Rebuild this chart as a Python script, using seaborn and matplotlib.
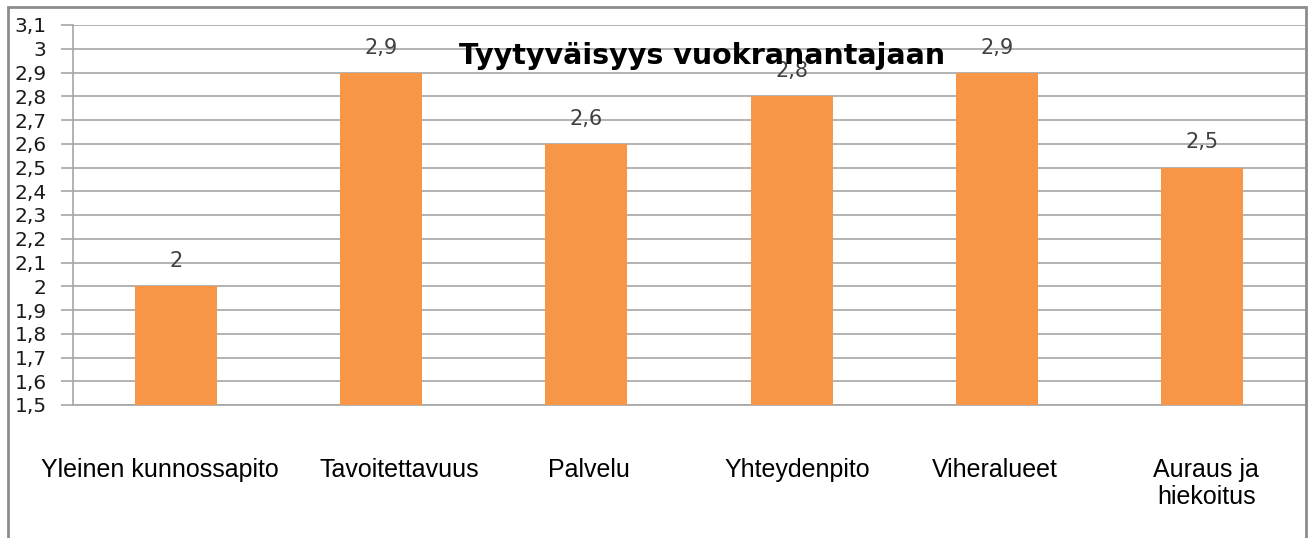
import matplotlib
matplotlib.use("Agg")
import matplotlib.pyplot as plt
import matplotlib.transforms as mtransforms
import seaborn as sns
import pandas as pd
import numpy as np
from matplotlib.patches import Rectangle

categories = ["Yleinen kunnossapito", "Tavoitettavuus", "Palvelu", "Yhteydenpito", "Viheralueet", "Auraus ja\nhiekoitus"]
values = [2.0, 2.9, 2.6, 2.8, 2.9, 2.5]
value_labels = ["2", "2,9", "2,6", "2,8", "2,9", "2,5"]
yticks = [1.5, 1.6, 1.7, 1.8, 1.9, 2.0, 2.1, 2.2, 2.3, 2.4, 2.5, 2.6, 2.7, 2.8, 2.9, 3.0, 3.1]
ytick_labels = ["1,5", "1,6", "1,7", "1,8", "1,9", "2", "2,1", "2,2", "2,3", "2,4", "2,5", "2,6", "2,7", "2,8", "2,9", "3", "3,1"]
title = "Tyytyväisyys vuokranantajaan"

sns.set_style("white")
plt.rcParams['font.family'] = ['Liberation Sans', 'DejaVu Sans']

W, H = 1312, 538
fig = plt.figure(figsize=(W / 100, H / 100), dpi=100)
ax = fig.add_axes([73 / W, (H - 405) / H, (1305 - 73) / W, (405 - 25) / H])

df = pd.DataFrame({"cat": categories, "val": values})
sns.barplot(data=df, x="cat", y="val", color="#F79646", width=0.4, ax=ax, zorder=3,
            saturation=1, linewidth=0)

ax.set_ylim(1.5, 3.1)
ax.set_xlim(-0.5, len(categories) - 0.5)
ax.set_yticks(yticks)
ax.set_yticklabels(ytick_labels, fontfamily="DejaVu Sans", fontsize=14.5, color="#1A1A1A")
ax.yaxis.grid(True, color="#A6A6A6", linewidth=1.2, zorder=0)
ax.xaxis.grid(False)
ax.tick_params(axis="y", which="both", left=True, length=9, width=1.2, color="#A6A6A6", pad=10)
ax.tick_params(axis="x", bottom=False, pad=35, labelsize=18, labelcolor="#000000")
ax.set_xlabel("")
ax.set_ylabel("")
# small horizontal nudges of category labels (pixels), as in the reference layout
label_shift_px = [-16, 18, 3, 6, -2, 4]
for lab, dx in zip(ax.get_xticklabels(), label_shift_px):
    lab.set_linespacing(1.15)
    lab.set_verticalalignment("top")
    lab.set_transform(lab.get_transform() + mtransforms.ScaledTranslation(dx / 100, 0, fig.dpi_scale_trans))

for s in ["top", "right"]:
    ax.spines[s].set_visible(False)
ax.spines["left"].set_color("#A6A6A6")
ax.spines["left"].set_linewidth(1.2)
ax.spines["bottom"].set_color("#A6A6A6")
ax.spines["bottom"].set_linewidth(1.2)

for i, (v, t) in enumerate(zip(values, value_labels)):
    ax.annotate(t, (i, v), xytext=(0, 18), textcoords="offset points", ha="center", va="center",
                fontfamily="DejaVu Sans", fontsize=15, color="#404040", zorder=5)

fig.text(702 / W, 1 - 56 / H, title, ha="center", va="center", fontfamily="DejaVu Sans",
         fontweight="bold", fontsize=20.5, color="#000000", zorder=6)

# outer chart frame
fig.patches.append(Rectangle((8 / W, -0.05), (1306 - 8) / W, 1 - 7 / H + 0.05,
                             transform=fig.transFigure, fill=False, edgecolor="#8C8C8C",
                             linewidth=2, zorder=10))

fig.savefig("out.png", dpi=100)
